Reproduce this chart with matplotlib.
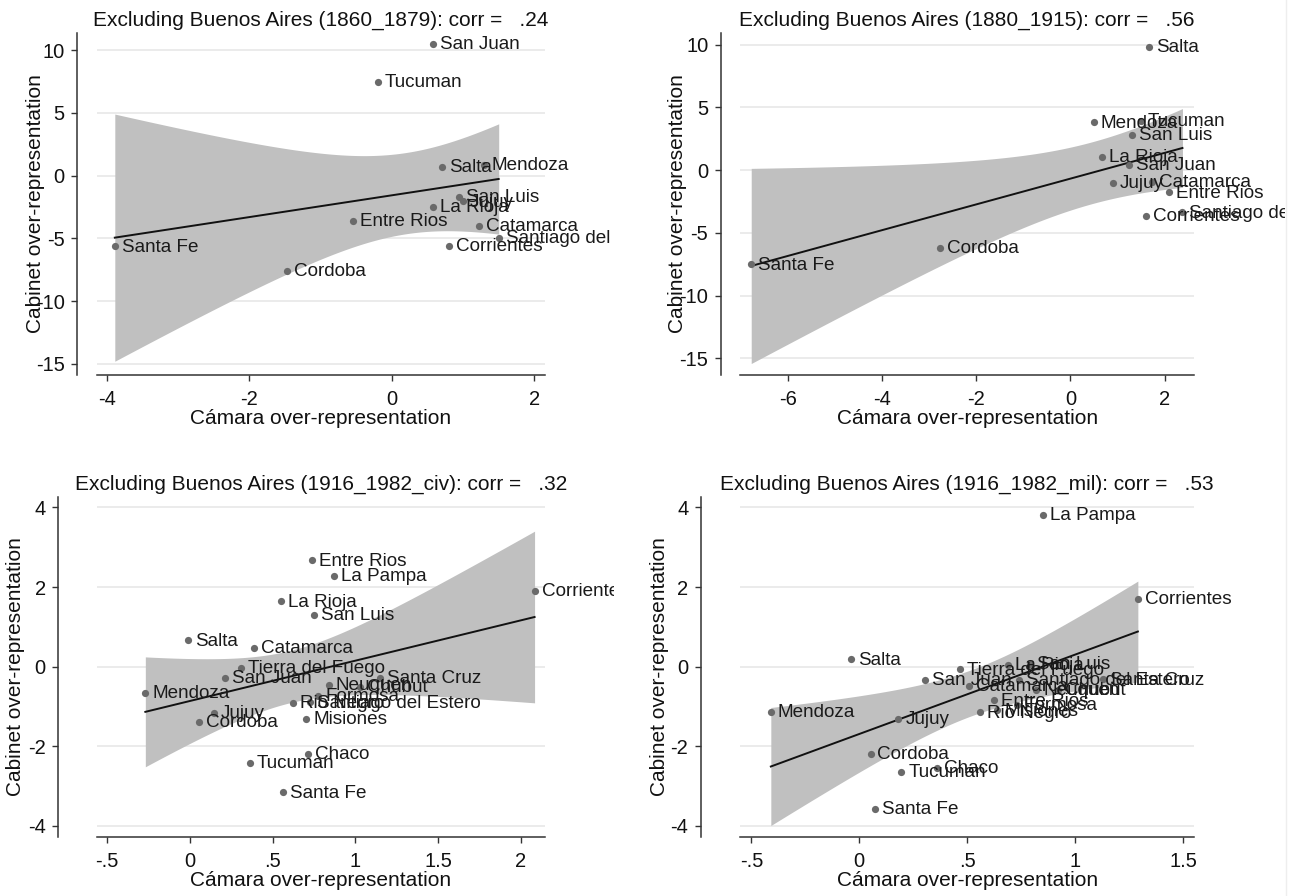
import numpy as np
import matplotlib
matplotlib.use('Agg')
import matplotlib.pyplot as plt
from matplotlib.transforms import Bbox, TransformedBbox

plt.rcParams['font.family'] = ['Liberation Sans', 'DejaVu Sans']

# ---------------- data ----------------
prov_1860 = ['San Juan', 'Tucuman', 'Salta', 'Mendoza', 'San Luis', 'Jujuy', 'La Rioja',
             'Entre Rios', 'Catamarca', 'Santiago del Estero', 'Corrientes', 'Santa Fe', 'Cordoba']
camara_1860 = [0.58, -0.20, 0.71, 1.30, 0.94, 1.00, 0.58, -0.54, 1.22, 1.50, 0.80, -3.89, -1.47]
cabinet_1860 = [10.47, 7.49, 0.67, 0.85, -1.70, -2.05, -2.49, -3.58, -4.01, -4.96, -5.58, -5.63, -7.59]

prov_1880 = ['Salta', 'Mendoza', 'Tucuman', 'San Luis', 'La Rioja', 'San Juan', 'Jujuy',
             'Catamarca', 'Entre Rios', 'Santiago del Estero', 'Corrientes', 'Cordoba', 'Santa Fe']
camara_1880 = [1.67, 0.50, 1.49, 1.31, 0.67, 1.25, 0.91, 1.73, 2.09, 2.38, 1.61, -2.76, -6.78]
cabinet_1880 = [9.83, 3.80, 3.90, 2.79, 1.06, 0.40, -1.01, -0.93, -1.78, -3.37, -3.64, -6.19, -7.52]

prov_civ = ['Entre Rios', 'La Pampa', 'Corrientes', 'La Rioja', 'San Luis', 'Salta', 'Catamarca',
            'Tierra del Fuego', 'San Juan', 'Santa Cruz', 'Neuquen', 'Chubut', 'Mendoza', 'Formosa',
            'Rio Negro', 'Santiago del Estero', 'Misiones', 'Jujuy', 'Cordoba', 'Chaco', 'Tucuman',
            'Santa Fe']
camara_civ = [0.738, 0.869, 2.083, 0.549, 0.748, -0.013, 0.385, 0.310, 0.214, 1.151, 0.839, 1.03,
              -0.27, 0.775, 0.625, 0.724, 0.703, 0.146, 0.056, 0.713, 0.360, 0.562]
cabinet_civ = [2.67, 2.28, 1.90, 1.64, 1.29, 0.66, 0.48, -0.04, -0.28, -0.28, -0.47, -0.52,
               -0.66, -0.73, -0.92, -0.90, -1.31, -1.16, -1.39, -2.20, -2.43, -3.16]

prov_mil = ['La Pampa', 'Corrientes', 'Salta', 'Tierra del Fuego', 'La Rioja', 'San Luis',
            'Catamarca', 'San Juan', 'Santiago del Estero', 'Santa Cruz', 'Neuquen', 'Chubut',
            'Entre Rios', 'Formosa', 'Misiones', 'Rio Negro', 'Mendoza', 'Jujuy', 'Cordoba',
            'Tucuman', 'Chaco', 'Santa Fe']
camara_mil = [0.851, 1.291, -0.039, 0.465, 0.69, 0.79, 0.508, 0.305, 0.741, 1.129, 0.82, 0.92,
              0.625, 0.73, 0.64, 0.558, -0.410, 0.181, 0.052, 0.195, 0.359, 0.073]
cabinet_mil = [3.81, 1.71, 0.18, -0.07, 0.04, 0.06, -0.49, -0.33, -0.33, -0.32, -0.58, -0.58,
               -0.85, -0.96, -1.10, -1.15, -1.13, -1.31, -2.20, -2.64, -2.55, -3.58]

titles = ['Excluding Buenos Aires (1860_1879): corr =   .24',
          'Excluding Buenos Aires (1880_1915): corr =   .56',
          'Excluding Buenos Aires (1916_1982_civ): corr =   .32',
          'Excluding Buenos Aires (1916_1982_mil): corr =   .53']
xlabel_text = 'Cámara over-representation'
ylabel_text = 'Cabinet over-representation'

xticks_top_left = [-4, -2, 0, 2]
xticklabels_top_left = ['-4', '-2', '0', '2']
xticks_top_right = [-6, -4, -2, 0, 2]
xticklabels_top_right = ['-6', '-4', '-2', '0', '2']
yticks_top = [10, 5, 0, -5, -10, -15]
yticklabels_top = ['10', '5', '0', '-5', '-10', '-15']
xticks_bottom_left = [-0.5, 0, 0.5, 1, 1.5, 2]
xticklabels_bottom_left = ['-.5', '0', '.5', '1', '1.5', '2']
xticks_bottom_right = [-0.5, 0, 0.5, 1, 1.5]
xticklabels_bottom_right = ['-.5', '0', '.5', '1', '1.5']
yticks_bottom = [4, 2, 0, -2, -4]
yticklabels_bottom = ['4', '2', '0', '-2', '-4']

# t critical values (95%) for df = n-2
t_df11 = 2.201
t_df20 = 2.086

# ---------------- figure ----------------
W, H = 1294, 896
fig = plt.figure(figsize=(W / 100, H / 100), dpi=100)

BAND = '#c0c0c0'
DOT = '#6a6a6a'
AXC = '#333333'
GRID = '#ebebeb'


def px_axes(l, r, t, b):
    return fig.add_axes([l / W, 1 - b / H, (r - l) / W, (b - t) / H])


def draw(ax, names, x, y, title, xlim, ylim, xt, xtl, yt, ytl, tval,
         spine_px, clip_right, ylab_px, box):
    x = np.asarray(x, float)
    y = np.asarray(y, float)
    n = len(x)
    b1, b0 = np.polyfit(x, y, 1)
    resid = y - (b0 + b1 * x)
    s = np.sqrt(np.sum(resid ** 2) / (n - 2))
    xbar = x.mean()
    sxx = np.sum((x - xbar) ** 2)
    xs = np.linspace(x.min(), x.max(), 200)
    yh = b0 + b1 * xs
    se = s * np.sqrt(1.0 / n + (xs - xbar) ** 2 / sxx)
    ax.fill_between(xs, yh - tval * se, yh + tval * se, color=BAND, lw=0, zorder=1)
    ax.plot(xs, yh, color='#111111', lw=1.4, zorder=2)
    ax.plot(x, y, 'o', ms=5.2, color=DOT, mec='none', zorder=3)

    clipbox = TransformedBbox(Bbox([[0, 0], [clip_right / W, 1]]), fig.transFigure)
    for nm, xi, yi in zip(names, x, y):
        t = ax.annotate(nm, (xi, yi), xytext=(5, -0.5), textcoords='offset points',
                        ha='left', va='center', fontsize=13.6, color='#1a1a1a',
                        zorder=4, annotation_clip=False)
        t.set_clip_on(True)
        t.set_clip_box(clipbox)

    ax.set_xlim(*xlim)
    ax.set_ylim(*ylim)
    ax.set_xticks(xt)
    ax.set_xticklabels(xtl)
    ax.set_yticks(yt)
    ax.set_yticklabels(ytl, rotation=90, va='center')
    ax.tick_params(axis='both', direction='out', length=4, width=1.0, color=AXC,
                   labelsize=14.5, labelcolor='#111111')
    ax.tick_params(axis='x', pad=6.5)
    ax.tick_params(axis='y', pad=5)
    for sp in ['top', 'right']:
        ax.spines[sp].set_visible(False)
    ax.spines['left'].set_position(('outward', spine_px * 0.72))
    for sp in ['left', 'bottom']:
        ax.spines[sp].set_color(AXC)
        ax.spines[sp].set_linewidth(1.1)
    ax.yaxis.grid(True, color=GRID, lw=1.4)
    ax.set_axisbelow(True)
    ax.set_title(title, fontsize=15, pad=5, color='#111111')
    ax.set_xlabel(xlabel_text, fontsize=15, color='#111111')
    ax.set_ylabel(ylabel_text, fontsize=15, color='#111111')
    l, r, tp, b = box
    ax.yaxis.set_label_coords((ylab_px - l) / (r - l), 0.5)
    ax.xaxis.set_label_coords(0.5, -34.0 / (b - tp))


boxes = [(97, 545, 33, 375), (740.4, 1193.75, 33, 375),
         (96.7, 545, 496.7, 837.3), (740.4, 1193.75, 496.7, 837.3)]

ax1 = px_axes(*boxes[0])
draw(ax1, prov_1860, camara_1860, cabinet_1860, titles[0], (-4.14, 2.15), (-15.88, 11.37),
     xticks_top_left, xticklabels_top_left, yticks_top, yticklabels_top, t_df11,
     20, 614, 45, boxes[0])

ax2 = px_axes(*boxes[1])
draw(ax2, prov_1880, camara_1880, cabinet_1880, titles[1], (-7.01, 2.62), (-16.33, 10.92),
     xticks_top_right, xticklabels_top_right, yticks_top, yticklabels_top, t_df11,
     19.6, 1285, 687, boxes[1])

ax3 = px_axes(*boxes[2])
draw(ax3, prov_civ, camara_civ, cabinet_civ, titles[2], (-0.564, 2.146), (-4.29, 4.27),
     xticks_bottom_left, xticklabels_bottom_left, yticks_bottom, yticklabels_bottom, t_df20,
     38.4, 614, 25, boxes[2])

ax4 = px_axes(*boxes[3])
draw(ax4, prov_mil, camara_mil, cabinet_mil, titles[3], (-0.551, 1.550), (-4.29, 4.27),
     xticks_bottom_right, xticklabels_bottom_right, yticks_bottom, yticklabels_bottom, t_df20,
     39.6, 1285, 669, boxes[3])

fig.add_artist(plt.Line2D([1285.5 / W, 1285.5 / W], [0, 1], color='#eeeeee', lw=1.0))

fig.savefig('out.png', dpi=100, facecolor='white')
